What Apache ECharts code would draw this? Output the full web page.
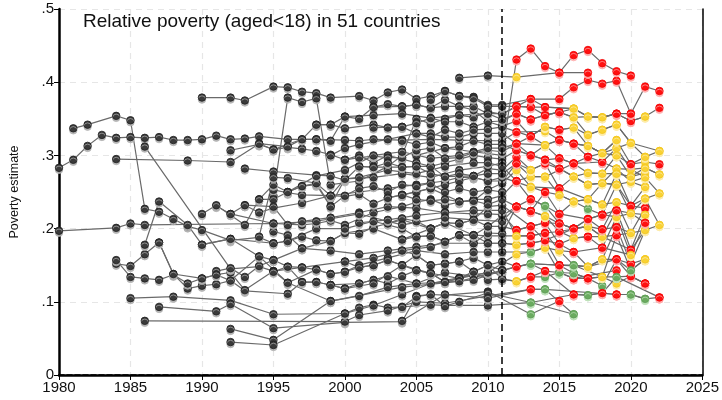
<!DOCTYPE html>
<html><head><meta charset="utf-8">
<script src="https://cdn.jsdelivr.net/npm/echarts@6/dist/echarts.min.js"></script>
<style>html,body{margin:0;padding:0;background:#fff}#c{width:722px;height:400px}</style>
</head><body><div id="c"></div>
<script>
// Tick labels
const xTicks = [1980,1985,1990,1995,2000,2005,2010,2015,2020,2025];
const yTicks = ['0','.1','.2','.3','.4','.5'];
const titleText = 'Relative poverty (aged<18) in 51 countries';
const yTitle = 'Poverty estimate';
const cutYear = 2011;
// Each country: [year, value] observed, or [year, value, kind] nowcast (r / y / g)
const c01 = [[1990,.379],[1992,.379],[1993,.375],[1995,.394],[1996,.393],[1997,.387],[1998,.385],[1999,.379],[2001,.381],[2002,.375],[2003,.386],[2004,.390],[2005,.377],[2006,.381],[2007,.388],[2008,.381],[2009,.380],[2010,.369],[2011,.369],[2013,.377,'r'],[2015,.377,'r'],[2016,.393,'r'],[2017,.403,'r'],[2018,.398,'r'],[2019,.402,'r'],[2020,.357,'r'],[2021,.394,'r'],[2022,.388,'r']];
const c02 = [[2008,.406],[2010,.409],[2012,.407,'y'],[2015,.413,'r'],[2017,.413,'r']];
const c03 = [[2005,.300],[2007,.310],[2009,.305],[2011,.300],[2012,.431,'r'],[2013,.446,'r'],[2014,.422,'r'],[2015,.413,'r'],[2016,.437,'r'],[2017,.444,'r'],[2018,.426,'r'],[2019,.415,'r'],[2020,.409,'r']];
const c04 = [[1995,.245],[1996,.379],[1997,.373],[1998,.378],[1999,.260],[2001,.265],[2003,.285],[2004,.300],[2005,.350],[2006,.343],[2007,.350],[2008,.355],[2009,.352],[2010,.360],[2011,.356],[2012,.367,'r'],[2013,.366,'r'],[2014,.366,'r'],[2016,.364,'y'],[2017,.353,'y'],[2018,.352,'y'],[2019,.357,'r'],[2020,.347,'r'],[2021,.353,'y'],[2022,.365,'r']];
const c05 = [[1980,.283],[1981,.294],[1982,.313],[1983,.328],[1984,.324],[1985,.325],[1986,.324],[1987,.325],[1988,.321],[1989,.321],[1990,.322],[1991,.327],[1992,.322],[1993,.323],[1994,.326],[1996,.322],[1998,.322],[2000,.321],[2001,.320],[2002,.322],[2004,.321],[2006,.322],[2008,.321],[2010,.320],[2011,.320],[2012,.332,'r'],[2014,.333,'y'],[2015,.321,'r'],[2016,.316,'r'],[2017,.298,'r'],[2018,.291,'r'],[2019,.310,'y'],[2020,.281,'y'],[2021,.283,'y'],[2022,.274,'y']];
const c06 = [[1992,.307],[1994,.315],[1995,.308],[1996,.311],[1997,.309],[1998,.306],[1999,.301],[2000,.294],[2001,.300],[2002,.290],[2003,.300],[2004,.295],[2005,.290],[2006,.285],[2007,.290],[2008,.295],[2009,.300],[2010,.297],[2011,.295],[2012,.307,'r'],[2014,.294,'r'],[2015,.282,'r'],[2016,.271,'y'],[2017,.260,'y'],[2018,.262,'y'],[2019,.282,'y'],[2020,.264,'y'],[2021,.270,'y'],[2022,.248,'y']];
const c07 = [[1984,.295],[1989,.293],[1992,.291],[1994,.316],[1996,.312],[1997,.322],[1998,.342],[1999,.342],[2000,.353],[2001,.350],[2002,.366],[2004,.367],[2005,.369],[2006,.365],[2007,.367],[2008,.367],[2009,.362],[2010,.346],[2011,.347],[2012,.357,'r'],[2013,.349,'r'],[2014,.355,'r'],[2015,.359,'r'],[2016,.352,'y'],[2017,.328,'y'],[2018,.335,'y'],[2019,.342,'y'],[2020,.317,'y'],[2021,.298,'y'],[2022,.306,'y']];
const c08 = [[1981,.337],[1982,.342],[1984,.354],[1985,.348],[1986,.227],[1987,.223],[1988,.213],[1989,.203],[1990,.198],[1992,.184],[1994,.188],[1995,.180],[1996,.183],[1997,.189],[1998,.184],[1999,.183],[2000,.194],[2001,.193],[2002,.202],[2003,.207],[2004,.212],[2006,.200],[2007,.208],[2008,.207],[2009,.212],[2010,.203],[2011,.203],[2012,.198,'r'],[2013,.203,'r'],[2014,.208,'r'],[2015,.179,'r'],[2016,.168,'r'],[2017,.148,'y'],[2018,.158,'y'],[2019,.202,'r'],[2020,.152,'r'],[2021,.198,'y']];
const c09 = [[1980,.197],[1984,.201],[1985,.207],[1986,.205],[1995,.207],[1997,.205],[1998,.207],[1999,.211],[2000,.205],[2002,.222],[2004,.230],[2005,.236],[2006,.240],[2007,.232],[2008,.236],[2009,.240],[2010,.240],[2011,.245],[2012,.265,'r'],[2013,.240,'r'],[2014,.231,'g'],[2015,.207,'r'],[2016,.200,'r'],[2017,.203,'y'],[2018,.189,'y'],[2019,.225,'r'],[2020,.171,'r'],[2021,.219,'y']];
const c10 = [[1984,.152],[1985,.149],[1986,.165],[1987,.181],[1988,.138],[1989,.118],[1990,.122],[1991,.124],[1992,.129],[1993,.115],[1996,.111],[1997,.127],[1998,.127],[1999,.123],[2000,.118],[2001,.125],[2002,.130],[2003,.125],[2004,.135],[2005,.143],[2006,.139],[2007,.127],[2008,.132],[2009,.141],[2010,.130],[2011,.131],[2012,.128,'y'],[2013,.134,'r'],[2014,.134,'g'],[2015,.140,'g'],[2016,.132,'r'],[2017,.132,'r'],[2018,.134,'y'],[2019,.125,'y'],[2020,.135,'r'],[2021,.125,'r']];
const c11 = [[1984,.157],[1985,.134],[1986,.132],[1987,.130],[1988,.137],[1989,.125],[1990,.132],[1991,.137],[1992,.140],[1993,.116],[1995,.142],[1996,.126],[1998,.144],[1999,.138],[2000,.141],[2001,.147],[2002,.150],[2003,.157],[2004,.150],[2005,.164],[2006,.150],[2007,.152],[2008,.155],[2009,.160],[2010,.150],[2011,.155],[2012,.148,'r'],[2013,.152,'g'],[2014,.142,'r'],[2016,.110,'r'],[2017,.109,'g'],[2018,.112,'r'],[2019,.134,'g'],[2022,.106,'r']];
const c12 = [[1985,.105],[1988,.107],[1992,.102],[1995,.083],[2000,.084],[2001,.092],[2002,.096],[2003,.092],[2004,.093],[2006,.096],[2007,.095],[2010,.095],[2013,.099,'g'],[2016,.083,'g']];
const c13 = [[1987,.093],[1991,.087],[1992,.097],[1995,.064],[2000,.072],[2004,.073],[2005,.108],[2006,.110],[2007,.109],[2010,.114],[2013,.083,'g'],[2015,.101,'r']];
const c14 = [[1986,.074],[2000,.073],[2001,.082],[2003,.088],[2005,.100],[2007,.098],[2010,.108],[2013,.117,'r'],[2014,.117,'g'],[2019,.110,'r'],[2020,.110,'g'],[2021,.104,'g']];
const c15 = [[1986,.178],[1987,.237],[1989,.205],[1990,.178],[1992,.186],[1994,.162],[1995,.157],[1997,.173],[1999,.170],[2001,.165],[2003,.170],[2005,.175],[2007,.180],[2009,.180],[2010,.180],[2011,.180],[2012,.178,'y'],[2013,.180,'r'],[2014,.184,'r'],[2015,.150,'r'],[2016,.139,'g'],[2017,.132,'r'],[2018,.122,'g'],[2019,.158,'r'],[2020,.135,'r'],[2021,.125,'r']];
const c16 = [[1986,.312],[1992,.145],[1994,.148],[1995,.142],[1997,.147],[2000,.155],[2002,.160],[2004,.170],[2006,.175],[2008,.191],[2009,.191],[2010,.190],[2011,.190],[2012,.190,'y'],[2013,.190,'r'],[2014,.194,'r'],[2015,.170,'y'],[2016,.150,'g'],[2018,.134,'y'],[2019,.191,'r'],[2020,.143,'g'],[2021,.158,'y']];
const c17 = [[1991,.231],[1992,.220],[1993,.232],[1994,.222],[1995,.228],[1997,.235],[1999,.245],[2001,.250],[2003,.255],[2005,.260],[2007,.265],[2008,.270],[2009,.270],[2010,.265],[2011,.265],[2012,.289,'r'],[2013,.271,'y'],[2014,.271,'y'],[2015,.246,'y'],[2016,.237,'y'],[2017,.227,'g'],[2018,.219,'r'],[2019,.260,'y'],[2020,.221,'y'],[2021,.241,'y'],[2022,.205,'y']];
const c18 = [[1993,.282],[1995,.278],[1998,.273],[1999,.272],[2000,.266],[2001,.285],[2002,.284],[2004,.284],[2005,.285],[2006,.285],[2007,.271],[2009,.272],[2010,.282],[2011,.280],[2012,.298,'r'],[2013,.280,'y'],[2014,.289,'r'],[2015,.255,'r'],[2017,.240,'y'],[2018,.233,'y'],[2019,.275,'y'],[2020,.231,'r'],[2021,.257,'y']];
const c19 = [[2000,.294],[2001,.297],[2002,.299],[2003,.297],[2004,.297],[2005,.307],[2006,.310],[2007,.296],[2008,.297],[2009,.304],[2010,.307],[2011,.305],[2012,.316,'r'],[2013,.300,'r'],[2014,.314,'y'],[2015,.296,'r'],[2016,.289,'r'],[2017,.276,'y'],[2018,.275,'y'],[2019,.300,'y'],[2020,.271,'y'],[2021,.276,'y']];
const c20 = [[1998,.342],[1999,.342],[2000,.337],[2002,.342],[2003,.338],[2004,.339],[2005,.344],[2006,.351],[2007,.346],[2008,.346],[2009,.339],[2010,.346],[2011,.340],[2012,.347,'r'],[2013,.326,'r'],[2014,.339,'y'],[2015,.335,'r'],[2016,.338,'y'],[2017,.313,'y'],[2018,.303,'y'],[2019,.321,'y'],[2020,.288,'r'],[2021,.291,'y'],[2022,.288,'r']];
const c21 = [[1995,.253],[1996,.249],[1997,.246],[1999,.245],[2000,.244],[2001,.247],[2002,.234],[2003,.242],[2004,.246],[2006,.255],[2008,.237],[2009,.238],[2010,.253],[2011,.262],[2012,.280,'y'],[2013,.257,'y'],[2014,.250,'r'],[2015,.220,'r'],[2017,.213,'r'],[2018,.199,'r'],[2019,.236,'y'],[2020,.194,'y'],[2021,.228,'r']];
const c22 = [[1990,.220],[1991,.232],[1993,.205],[1994,.240],[1995,.240],[1996,.250],[1997,.258],[1998,.262],[1999,.231],[2000,.268],[2002,.270],[2004,.275],[2006,.270],[2008,.280],[2010,.285],[2011,.290]];
const c23 = [[1992,.063],[1995,.048],[1999,.101],[2001,.108],[2003,.120],[2005,.125],[2007,.140],[2009,.135],[2011,.140]];
const c24 = [[1992,.045],[1995,.041],[2000,.084],[2002,.095],[2004,.110],[2006,.125],[2008,.133],[2010,.140],[2012,.165,'y'],[2013,.168,'g'],[2014,.174,'y'],[2015,.140,'g'],[2016,.132,'r'],[2019,.143,'r']];
const c25 = [[2004,.170],[2005,.164],[2006,.150],[2007,.152],[2008,.155],[2009,.141],[2010,.150],[2011,.143],[2012,.148,'r'],[2013,.152,'g'],[2015,.150,'r'],[2017,.148,'y'],[2019,.158,'r'],[2020,.152,'r'],[2021,.158,'y']];
const c26 = [[2004,.185],[2005,.189],[2006,.190],[2007,.182],[2008,.191],[2009,.180],[2010,.194],[2011,.193],[2012,.230,'r'],[2013,.224,'r'],[2014,.217,'y'],[2015,.196,'r'],[2016,.187,'y'],[2017,.189,'r'],[2018,.174,'r'],[2019,.216,'y'],[2020,.164,'y'],[2021,.208,'r']];
const c27 = [[2003,.207],[2004,.214],[2005,.210],[2006,.200],[2007,.208],[2008,.207],[2009,.212],[2010,.230],[2011,.232],[2013,.203,'r'],[2014,.184,'r'],[2016,.200,'r'],[2017,.203,'y'],[2018,.189,'y'],[2020,.171,'r'],[2021,.198,'y'],[2022,.205,'y']];
const c28 = [[2004,.246],[2005,.250],[2006,.255],[2007,.260],[2008,.265],[2009,.270],[2010,.265],[2011,.270],[2013,.257,'y'],[2015,.255,'r'],[2016,.271,'y'],[2017,.260,'y'],[2018,.262,'y'],[2019,.260,'y'],[2020,.264,'y'],[2021,.257,'y']];
const c29 = [[2002,.338],[2004,.339],[2005,.330],[2006,.330],[2007,.325],[2008,.325],[2009,.330],[2010,.330],[2011,.330],[2012,.316,'r'],[2014,.314,'y'],[2015,.321,'r'],[2016,.316,'r'],[2017,.313,'y'],[2018,.303,'y'],[2019,.310,'y'],[2020,.317,'y'],[2022,.306,'y']];
const c30 = [[2002,.366],[2003,.370],[2004,.367],[2005,.369],[2006,.365],[2007,.376],[2008,.367],[2009,.367],[2010,.357],[2011,.357],[2012,.367,'r'],[2013,.366,'r'],[2014,.355,'r'],[2015,.359,'r'],[2016,.364,'y'],[2017,.353,'y'],[2018,.352,'y'],[2019,.357,'r'],[2020,.347,'r'],[2021,.353,'y']];
const c31 = [[1994,.240],[1995,.260],[1996,.250],[1997,.258],[1998,.260],[1999,.230],[2000,.245],[2001,.255],[2002,.258],[2003,.250],[2004,.260],[2005,.258],[2006,.262],[2007,.250],[2008,.255],[2009,.250],[2010,.253],[2011,.250]];
const c32 = [[1994,.189],[1995,.270],[1996,.269],[1998,.262],[1999,.245],[2000,.268],[2001,.270],[2003,.280],[2005,.275],[2007,.285],[2009,.290],[2010,.290],[2011,.285],[2012,.265,'r'],[2013,.271,'y'],[2014,.271,'y'],[2016,.289,'r'],[2018,.291,'r'],[2019,.282,'y'],[2020,.281,'y'],[2021,.270,'y']];
const c33 = [[1995,.196],[1996,.191],[1997,.173],[1999,.183],[2000,.194],[2002,.200],[2004,.185],[2006,.200],[2007,.208],[2009,.191],[2010,.203],[2011,.218],[2012,.230,'r'],[2013,.240,'r'],[2014,.231,'g'],[2015,.220,'r'],[2016,.237,'y'],[2017,.240,'y'],[2018,.233,'y'],[2019,.236,'y'],[2020,.231,'r'],[2021,.228,'r']];
const c34 = [[1995,.141],[1996,.148],[1997,.147],[1998,.144],[1999,.138],[2000,.141],[2001,.150],[2003,.160],[2005,.170],[2007,.165],[2009,.168],[2010,.168],[2011,.168],[2013,.168,'g'],[2014,.174,'y'],[2015,.170,'y'],[2016,.168,'r'],[2018,.174,'r'],[2020,.164,'y']];
const c35 = [[1991,.142],[1992,.146],[1993,.134],[1994,.149],[1995,.157],[1996,.148],[1997,.127],[1998,.127],[1999,.123],[2000,.118],[2002,.125],[2004,.150],[2006,.139],[2008,.132],[2010,.140]];
const c36 = [[1990,.178],[1992,.186],[1995,.180],[1996,.183],[1998,.200],[2000,.200],[2002,.210],[2004,.200],[2005,.189],[2006,.190],[2007,.182],[2008,.191],[2009,.191],[2010,.180],[2011,.180],[2012,.178,'y'],[2013,.180,'r'],[2014,.184,'r'],[2015,.179,'r'],[2016,.187,'y'],[2017,.189,'r'],[2018,.189,'y'],[2019,.191,'r'],[2020,.194,'y'],[2021,.198,'y']];
const c37 = [[1993,.232],[1995,.230],[1996,.205],[1997,.210],[1999,.215],[2001,.222],[2003,.230],[2005,.228],[2007,.222],[2009,.220],[2010,.220],[2011,.219],[2012,.198,'r'],[2013,.203,'r'],[2014,.208,'r'],[2015,.207,'r'],[2016,.200,'r'],[2017,.213,'r'],[2018,.219,'r'],[2019,.216,'y'],[2020,.221,'y'],[2021,.219,'y']];
const c38 = [[1999,.300],[2000,.310],[2001,.315],[2003,.322],[2005,.330],[2006,.325],[2007,.335],[2008,.330],[2009,.335],[2010,.336],[2011,.339],[2013,.326,'r'],[2014,.339,'y'],[2015,.335,'r'],[2016,.338,'y'],[2017,.328,'y'],[2018,.335,'y'],[2019,.342,'y'],[2020,.317,'y']];
const c39 = [[2001,.285],[2002,.284],[2003,.290],[2004,.284],[2005,.285],[2006,.275],[2007,.271],[2008,.275],[2009,.272],[2010,.275],[2011,.275],[2012,.289,'r'],[2013,.280,'y'],[2014,.289,'r'],[2015,.282,'r'],[2016,.271,'y'],[2017,.276,'y'],[2018,.275,'y'],[2019,.275,'y'],[2020,.271,'y'],[2021,.283,'y'],[2022,.274,'y']];
const c40 = [[2003,.242],[2004,.246],[2005,.240],[2006,.238],[2007,.240],[2008,.237],[2009,.238],[2010,.233],[2011,.240],[2012,.230,'r'],[2013,.224,'r'],[2014,.250,'r'],[2015,.246,'y'],[2016,.237,'y'],[2017,.240,'y'],[2018,.262,'y'],[2019,.260,'y'],[2020,.231,'r'],[2021,.241,'y'],[2022,.248,'y']];
const c41 = [[2000,.155],[2001,.147],[2002,.150],[2003,.157],[2004,.150],[2005,.143],[2006,.139],[2007,.127],[2008,.132],[2009,.141],[2010,.150],[2011,.131],[2012,.128,'y'],[2013,.134,'r'],[2014,.142,'r'],[2015,.140,'g'],[2016,.139,'g'],[2017,.132,'r'],[2018,.134,'y'],[2019,.134,'g'],[2020,.135,'r'],[2021,.125,'r']];
const c42 = [[2004,.093],[2005,.107],[2006,.110],[2007,.094],[2008,.100],[2010,.112],[2013,.099,'g'],[2016,.110,'r'],[2017,.109,'g'],[2018,.112,'r'],[2019,.110,'r'],[2020,.110,'g'],[2021,.104,'g'],[2022,.106,'r']];
const c43 = [[2004,.074],[2007,.110],[2010,.105],[2013,.117,'r'],[2014,.117,'g'],[2016,.083,'g']];
const c44 = [[2006,.376],[2007,.388],[2008,.381],[2009,.378],[2010,.367],[2011,.367],[2012,.367,'r'],[2013,.377,'r'],[2014,.366,'r'],[2016,.364,'y']];
const c45 = [[2004,.320],[2005,.315],[2006,.318],[2007,.310],[2008,.312],[2009,.320],[2010,.315],[2011,.315],[2012,.307,'r'],[2013,.300,'r'],[2014,.294,'r'],[2015,.296,'r'],[2016,.289,'r'],[2017,.298,'r'],[2018,.303,'y'],[2019,.300,'y'],[2020,.288,'r'],[2021,.298,'y']];
const c46 = [[1987,.181],[1988,.138],[1990,.132],[1991,.137],[1992,.129],[1994,.162],[1996,.126],[1999,.101],[2004,.120],[2008,.128],[2011,.143]];
const c47 = [[1994,.316],[1995,.308],[1997,.322],[1998,.322],[1999,.320],[2000,.353],[2002,.355],[2004,.357],[2006,.351],[2008,.355],[2010,.357],[2011,.349],[2012,.357,'r'],[2013,.349,'r'],[2014,.355,'r'],[2015,.359,'r'],[2016,.352,'y'],[2017,.353,'y'],[2018,.352,'y'],[2019,.357,'r'],[2020,.357,'r']];
const c48 = [[2001,.208],[2003,.212],[2005,.218],[2007,.222],[2009,.225],[2011,.225],[2012,.190,'y'],[2013,.190,'r'],[2014,.194,'r'],[2015,.196,'r'],[2017,.203,'y'],[2018,.199,'r'],[2019,.202,'r'],[2020,.194,'y']];
const c49 = [[1999,.123],[2001,.125],[2003,.135],[2005,.125],[2007,.127],[2009,.130],[2011,.143],[2013,.152,'g'],[2015,.150,'r'],[2016,.150,'g'],[2017,.148,'y'],[2018,.158,'y'],[2019,.158,'r'],[2020,.143,'g'],[2021,.158,'y']];
const c50 = [[1996,.250],[1998,.272],[2000,.280],[2002,.300],[2004,.305],[2006,.296],[2008,.300],[2010,.310],[2011,.310],[2012,.316,'r'],[2013,.326,'r'],[2014,.314,'y'],[2015,.321,'r'],[2016,.316,'r'],[2017,.313,'y'],[2018,.303,'y'],[2019,.321,'y']];
const c51 = [[1992,.220],[1995,.207],[1998,.210],[2001,.220],[2004,.205],[2007,.215],[2009,.212],[2011,.210],[2012,.230,'r'],[2013,.224,'r'],[2014,.217,'y'],[2015,.207,'r'],[2016,.200,'r'],[2017,.213,'r'],[2018,.219,'r'],[2019,.225,'r'],[2020,.221,'y'],[2021,.208,'r']];
const countries = [c01,c02,c03,c04,c05,c06,c07,c08,c09,c10,c11,c12,c13,c14,c15,c16,c17,c18,c19,c20,c21,c22,c23,c24,c25,c26,c27,c28,c29,c30,c31,c32,c33,c34,c35,c36,c37,c38,c39,c40,c41,c42,c43,c44,c45,c46,c47,c48,c49,c50,c51];

const kindColor = {o:'#3a3a3a', r:'#ff1010', y:'#f9d233', g:'#6aab5f'};
const kindBorder = {o:'#1e1e1e', r:'#f20000', y:'#f2c51d', g:'#5e9c55'};
const kindHalo = {o:'rgba(175,175,175,0.9)', r:'rgba(255,170,170,0.9)', y:'rgba(253,236,170,0.9)', g:'rgba(190,225,185,0.9)'};

const series = countries.map((c,i)=>({
  type:'line', name:'c'+i, z:2,
  symbol:'circle', symbolSize:7.5, animation:false,
  lineStyle:{color:'#6a6a6a', width:1.2},
  data: c.map(p=>{
    const k = p[2]||'o';
    return {value:[p[0],p[1]], itemStyle:{color:kindColor[k], borderColor:kindBorder[k], borderWidth:0.8,
      shadowColor:kindHalo[k], shadowBlur:0, shadowOffsetY:2}};
  })
}));
series.push({type:'line', data:[], silent:true,
  markLine:{silent:true, symbol:'none', label:{show:false}, animation:false,
    lineStyle:{color:'#000', type:[7,4], width:1.5}, data:[{xAxis:cutYear}]}});

const chart = echarts.init(document.getElementById('c'), null, {renderer:'canvas'});
const lab = {color:'#111', fontSize:15, fontFamily:'Liberation Sans, Arial, sans-serif'};
chart.setOption({
  animation:false,
  title:{text:titleText, left:78, top:7, textStyle:{fontSize:19, fontWeight:'normal', color:'#111', fontFamily:'Liberation Sans, Arial, sans-serif'}},
  grid:{left:54, right:17, top:9, bottom:25},
  xAxis:[{type:'value', min:xTicks[0], max:xTicks[xTicks.length-1], interval:5,
    axisLine:{lineStyle:{color:'#000', width:2.5}}, axisTick:{length:5, lineStyle:{color:'#000'}},
    axisLabel:Object.assign({margin:5, formatter:(v)=>String(v)}, lab),
    splitLine:{show:true, lineStyle:{color:'#e6e6e6', type:[6,5], width:1.2}}},
    {type:'value', position:'top', min:xTicks[0], max:xTicks[xTicks.length-1], axisLine:{show:true, lineStyle:{color:'#000', type:[5,3], width:1.5}}, axisTick:{show:false}, axisLabel:{show:false}, splitLine:{show:false}}],
  yAxis:[{type:'value', min:0, max:0.5, interval:0.1,
    axisLine:{show:true, lineStyle:{color:'#000', width:2.5}}, axisTick:{show:true, length:5, lineStyle:{color:'#000'}},
    axisLabel:Object.assign({margin:5, formatter:(v)=>yTicks[Math.round(v*10)]}, lab),
    name:yTitle, nameLocation:'middle', nameGap:38, nameTextStyle:{fontSize:12.5, color:'#111', fontFamily:'Liberation Sans, Arial, sans-serif'},
    splitLine:{show:true, lineStyle:{color:'#e6e6e6', type:[6,5], width:1.2}}},
    {type:'value', position:'right', min:0, max:0.5, axisLine:{show:true, lineStyle:{color:'#000', width:1.5}}, axisTick:{show:false}, axisLabel:{show:false}, splitLine:{show:false}}],
  series: series
});
</script></body></html>
